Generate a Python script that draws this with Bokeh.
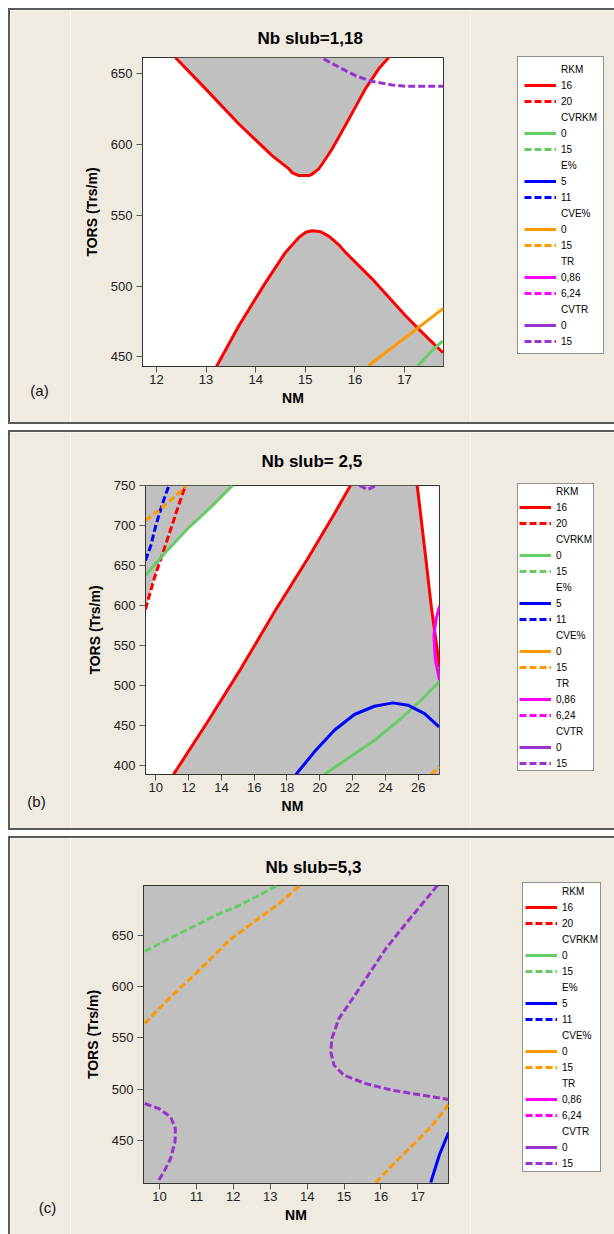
import numpy as np
from bokeh.plotting import figure
from bokeh.models import Legend, LegendItem, FixedTicker, Range1d, Label
from bokeh.layouts import column, row
from bokeh.embed import file_html
from bokeh.resources import INLINE

# ------------------------------------------------------------------ data
GROUPS = ["RKM", "CVRKM", "E%", "CVE%", "TR", "CVTR"]
LEVELS = [["16", "20"], ["0", "15"], ["5", "11"], ["0", "15"], ["0,86", "6,24"], ["0", "15"]]

# panel (a)  Nb slub = 1,18
A_TITLE = "Nb slub=1,18"
A_TAG = "(a)"
A_XLIM = [11.718, 17.785]
A_YLIM = [443.1, 661.6]
A_XTICKS = [12, 13, 14, 15, 16, 17]
A_YTICKS = [450, 500, 550, 600, 650]
A_RKM16_U_X = [12.38, 12.99, 13.66, 14.33, 14.67, 14.74, 14.87, 15.07, 15.14, 15.27, 15.34, 15.54, 15.88, 16.21, 16.48, 16.68]
A_RKM16_U_Y = [661.6, 639.4, 614.6, 592.2, 582.8, 580.0, 578.1, 578.1, 579.2, 582.8, 586.3, 596.9, 618.2, 639.4, 653.6, 661.6]
A_RKM16_L_X = [13.21, 13.66, 14.20, 14.60, 14.87, 15.01, 15.14, 15.31, 15.48, 15.68, 15.81, 16.35, 17.02, 17.49, 17.77]
A_RKM16_L_Y = [443.1, 471.9, 502.6, 523.8, 534.4, 538.0, 539.1, 538.4, 535.1, 529.0, 523.8, 504.9, 479.0, 462.5, 453.0]
A_CVTR15_X = [15.37, 15.68, 16.01, 16.35, 16.75, 17.02, 17.78]
A_CVTR15_Y = [660.6, 654.7, 648.8, 644.6, 642.2, 641.3, 641.3]
A_CVE0_X = [16.27, 17.02, 17.78]
A_CVE0_Y = [443.6, 463.7, 484.2]
A_CVRKM0_X = [17.27, 17.55, 17.77]
A_CVRKM0_Y = [443.6, 454.2, 461.2]

# panel (b)  Nb slub = 2,5
B_TITLE = "Nb slub= 2,5"
B_TAG = "(b)"
B_XLIM = [9.371, 27.30]
B_YLIM = [389.2, 750.0]
B_XTICKS = [10, 12, 14, 16, 18, 20, 22, 24, 26]
B_YTICKS = [400, 450, 500, 550, 600, 650, 700, 750]
B_RKM16_M_X = [11.08, 13.16, 15.19, 17.23, 19.26, 20.89, 21.87]
B_RKM16_M_Y = [389.3, 455.0, 521.4, 592.1, 658.6, 714.7, 750.0]
B_RKM16_R_X = [25.94, 26.18, 26.49, 26.79, 27.04, 27.30]
B_RKM16_R_Y = [750.0, 708.5, 654.4, 600.4, 563.0, 523.6]
B_RKM20_X = [9.37, 9.90, 10.41, 10.92, 11.32, 11.63, 11.83]
B_RKM20_Y = [595.4, 633.7, 664.8, 696.0, 720.9, 739.7, 750.0]
B_CVRKM0_U_X = [9.37, 10.51, 11.94, 13.36, 14.68]
B_CVRKM0_U_Y = [637.8, 664.8, 696.0, 723.0, 750.0]
B_CVRKM0_L_X = [20.28, 21.71, 23.33, 24.96, 26.18, 27.27]
B_CVRKM0_L_Y = [389.3, 409.2, 432.0, 459.1, 481.9, 504.8]
B_E11_X = [9.37, 9.70, 10.00, 10.31, 10.61, 10.81]
B_E11_Y = [656.5, 675.2, 700.1, 720.9, 739.7, 750.0]
B_E5_X = [18.55, 19.67, 20.89, 22.11, 23.33, 24.46, 25.37, 26.39, 27.27]
B_E5_Y = [389.3, 417.5, 444.5, 464.1, 474.4, 478.6, 475.7, 465.3, 448.7]
B_CVE15_U_X = [9.37, 10.31, 11.12, 11.83]
B_CVE15_U_Y = [706.4, 720.9, 735.5, 749.2]
B_CVE15_L_X = [26.79, 27.30]
B_CVE15_L_Y = [389.3, 398.8]
B_TR086_X = [27.30, 27.10, 26.96, 27.04, 27.30]
B_TR086_Y = [599.6, 583.8, 563.0, 533.9, 506.9]
B_CVTR15_X = [22.42, 22.93, 23.44]
B_CVTR15_Y = [750.0, 745.0, 750.0]

# panel (c)  Nb slub = 5,3
C_TITLE = "Nb slub=5,3"
C_TAG = "(c)"
C_XLIM = [9.566, 17.830]
C_YLIM = [408.1, 698.7]
C_XTICKS = [10, 11, 12, 13, 14, 15, 16, 17]
C_YTICKS = [450, 500, 550, 600, 650]
C_CVRKM15_X = [9.60, 10.16, 10.80, 11.52, 12.15, 12.69, 13.19]
C_CVRKM15_Y = [634.4, 645.1, 656.5, 669.5, 679.2, 689.0, 698.7]
C_CVE15_U_X = [9.60, 10.16, 11.07, 11.88, 12.61, 13.24, 13.80]
C_CVE15_U_Y = [564.0, 585.1, 615.9, 645.1, 664.6, 680.9, 698.7]
C_CVE15_L_X = [15.86, 16.40, 16.95, 17.40, 17.83]
C_CVE15_L_Y = [409.1, 429.2, 448.7, 465.0, 485.1]
C_CVTR15_R_X = [17.53, 17.12, 16.67, 16.13, 15.68, 15.23, 14.86, 14.67, 14.64, 14.73, 15.00, 15.59, 16.31, 17.12, 17.83]
C_CVTR15_R_Y = [698.7, 680.9, 661.4, 637.0, 612.7, 588.3, 568.9, 549.4, 536.4, 523.4, 513.6, 505.5, 499.0, 494.2, 490.0]
C_CVTR15_L_X = [9.60, 9.98, 10.30, 10.43, 10.42, 10.30, 10.12, 9.94]
C_CVTR15_L_Y = [486.1, 481.2, 473.1, 461.7, 448.7, 432.5, 419.5, 409.1]
C_E5_X = [17.35, 17.58, 17.83]
C_E5_Y = [409.1, 435.7, 457.8]

# ------------------------------------------------------------------ styles
COLORS = ["#FF0000", "#66CC66", "#0000FF", "#FF9900", "#FF00FF", "#9933CC"]
DASHES = ["solid", "7 3"]
GRAY = "#C0C0C0"
BEIGE = "#EFEBE1"
FONT = "Liberation Sans"
BORDER = "2px solid #5a5a5a"
TAG_W, PLOT_W, LEG_W = 62, 400, 144
NODATA = np.array([np.nan])   # legend-only renderers: nothing to draw in the strip


def blank_fig(width, height, styles):
    f = figure(width=width, height=height, output_backend="svg", toolbar_location=None,
               x_axis_location=None, y_axis_location=None,
               x_range=Range1d(0, 1), y_range=Range1d(0, 1),
               min_border_left=0, min_border_right=0, min_border_top=0, min_border_bottom=0,
               background_fill_color=BEIGE, border_fill_color=BEIGE,
               outline_line_color=None, styles=styles)
    f.frame_align = False
    f.xgrid.visible = False
    f.ygrid.visible = False
    return f


def make_panel(title, tag, xlim, ylim, xticks, yticks, curves, grays, full_gray,
               height, borders, title_offset, title_standoff, tag_xy,
               leg_xy, leg_pad, last):
    bl = BORDER
    if last:
        s_tag = {"border-left": bl, "border-top": bl}
        s_mid = {"border-top": bl}
    else:
        s_tag = {"border-left": bl, "border-top": bl, "border-bottom": bl}
        s_mid = {"border-top": bl, "border-bottom": bl}

    # --- left strip with the panel tag
    ft = blank_fig(TAG_W, height, s_tag)
    ft.add_layout(Label(x=tag_xy[0], y=tag_xy[1], x_units="screen", y_units="screen",
                        text=tag, text_font=FONT, text_font_size="15px",
                        text_color="#111111", text_align="center",
                        text_baseline="middle"))

    # --- the contour plot
    p = figure(width=PLOT_W, height=height, title=title,
               x_range=Range1d(*xlim), y_range=Range1d(*ylim),
               output_backend="svg", toolbar_location=None,
               min_border_left=borders[0], min_border_right=borders[1],
               min_border_top=borders[2], min_border_bottom=borders[3],
               background_fill_color=GRAY if full_gray else "white",
               border_fill_color=BEIGE, outline_line_color="#333333",
               outline_line_width=1, styles=s_mid)
    p.frame_align = False
    p.title.align = "left"
    p.title.offset = title_offset
    p.title.standoff = title_standoff
    p.title.text_font = FONT
    p.title.text_font_size = "17px"
    p.title.text_font_style = "bold"
    p.title.text_color = "#000000"
    p.xgrid.visible = False
    p.ygrid.visible = False

    for xs, ys in grays:
        p.patch(xs, ys, fill_color=GRAY, line_color=None)

    for gi in range(len(GROUPS)):
        for li in range(2):
            segs = curves.get((gi, li), [])
            if segs:
                p.multi_line(xs=[s[0] for s in segs], ys=[s[1] for s in segs],
                             line_color=COLORS[gi], line_width=3,
                             line_dash=DASHES[li], line_join="round")

    p.xaxis.ticker = FixedTicker(ticks=xticks)
    p.yaxis.ticker = FixedTicker(ticks=yticks)
    p.xaxis.axis_label = "NM"
    p.yaxis.axis_label = "TORS (Trs/m)"
    for ax in (p.xaxis[0], p.yaxis[0]):
        ax.axis_label_text_font = FONT
        ax.axis_label_text_font_size = "14px"
        ax.axis_label_text_font_style = "bold"
        ax.axis_label_text_color = "#000000"
        ax.major_label_text_font = FONT
        ax.major_label_text_font_size = "13px"
        ax.major_label_text_color = "#222222"
        ax.major_tick_out = 6
        ax.major_tick_in = 0
        ax.minor_tick_out = 0
        ax.minor_tick_in = 0
        ax.axis_line_color = "#333333"
        ax.major_tick_line_color = "#555555"
    p.xaxis.major_label_standoff = 2
    p.xaxis.axis_label_standoff = 3
    p.yaxis.major_label_standoff = 4
    p.yaxis.axis_label_standoff = 8

    # --- legend strip
    fl = blank_fig(LEG_W, height, s_mid)
    dummy = fl.line(x=NODATA, y=NODATA, line_alpha=0)
    items = []
    for gi, gname in enumerate(GROUPS):
        items.append(LegendItem(label=gname, renderers=[dummy]))
        for li, lname in enumerate(LEVELS[gi]):
            r = fl.line(x=NODATA, y=NODATA, line_color=COLORS[gi], line_width=3,
                        line_dash=DASHES[li])
            items.append(LegendItem(label=lname, renderers=[r]))
    legend = Legend(items=items, location=leg_xy, orientation="vertical",
                    border_line_color="#222222", border_line_width=1,
                    background_fill_color="white", background_fill_alpha=1,
                    label_text_font=FONT, label_text_font_size="10px",
                    label_text_color="#000000",
                    glyph_width=32, glyph_height=12, label_height=12,
                    label_width=36, label_standoff=5, spacing=4,
                    padding=leg_pad, margin=0)
    fl.add_layout(legend)

    return row(ft, p, fl, spacing=0)


# panel a
a_curves = {
    (0, 0): [(A_RKM16_U_X, A_RKM16_U_Y), (A_RKM16_L_X, A_RKM16_L_Y)],
    (5, 1): [(A_CVTR15_X, A_CVTR15_Y)],
    (3, 0): [(A_CVE0_X, A_CVE0_Y)],
    (1, 0): [(A_CVRKM0_X, A_CVRKM0_Y)],
}
a_grays = [
    (A_RKM16_U_X, A_RKM16_U_Y),
    (A_RKM16_L_X + [A_XLIM[1], A_XLIM[1]], A_RKM16_L_Y + [A_RKM16_L_Y[-1], A_YLIM[0]]),
]
ra = make_panel(A_TITLE, A_TAG, A_XLIM, A_YLIM, A_XTICKS, A_YTICKS, a_curves, a_grays, False,
                416, (72, 27, 47, 60), 115, 20, (29, 36), (47, 72), 6, False)

# panel b
b_curves = {
    (0, 0): [(B_RKM16_M_X, B_RKM16_M_Y), (B_RKM16_R_X, B_RKM16_R_Y)],
    (0, 1): [(B_RKM20_X, B_RKM20_Y)],
    (1, 0): [(B_CVRKM0_U_X, B_CVRKM0_U_Y), (B_CVRKM0_L_X, B_CVRKM0_L_Y)],
    (2, 0): [(B_E5_X, B_E5_Y)],
    (2, 1): [(B_E11_X, B_E11_Y)],
    (3, 1): [(B_CVE15_U_X, B_CVE15_U_Y), (B_CVE15_L_X, B_CVE15_L_Y)],
    (4, 0): [(B_TR086_X, B_TR086_Y)],
    (5, 1): [(B_CVTR15_X, B_CVTR15_Y)],
}
b_grays = [
    (B_RKM16_M_X + B_RKM16_R_X + [B_XLIM[1]], B_RKM16_M_Y + B_RKM16_R_Y + [B_YLIM[0]]),
    (B_RKM20_X[:3] + B_CVRKM0_U_X[1:] + [B_XLIM[0]], B_RKM20_Y[:3] + B_CVRKM0_U_Y[1:] + [B_YLIM[1]]),
]
rb = make_panel(B_TITLE, B_TAG, B_XLIM, B_YLIM, B_XTICKS, B_YTICKS, b_curves, b_grays, False,
                400, (75, 31, 53, 58), 116, 30, (26, 31), (47, 61), 1, False)

# panel c
c_curves = {
    (1, 1): [(C_CVRKM15_X, C_CVRKM15_Y)],
    (3, 1): [(C_CVE15_U_X, C_CVE15_U_Y), (C_CVE15_L_X, C_CVE15_L_Y)],
    (5, 1): [(C_CVTR15_R_X, C_CVTR15_R_Y), (C_CVTR15_L_X, C_CVTR15_L_Y)],
    (2, 0): [(C_E5_X, C_E5_Y)],
}
rc = make_panel(C_TITLE, C_TAG, C_XLIM, C_YLIM, C_XTICKS, C_YTICKS, c_curves, [], True,
                398, (73, 22, 47, 53), 122, 18, (37, 29), (52, 64), 2, True)

layout = column(ra, rb, rc, spacing=6, margin=(8, 0, 0, 8))
open("out.html", "w").write(file_html(layout, INLINE))
